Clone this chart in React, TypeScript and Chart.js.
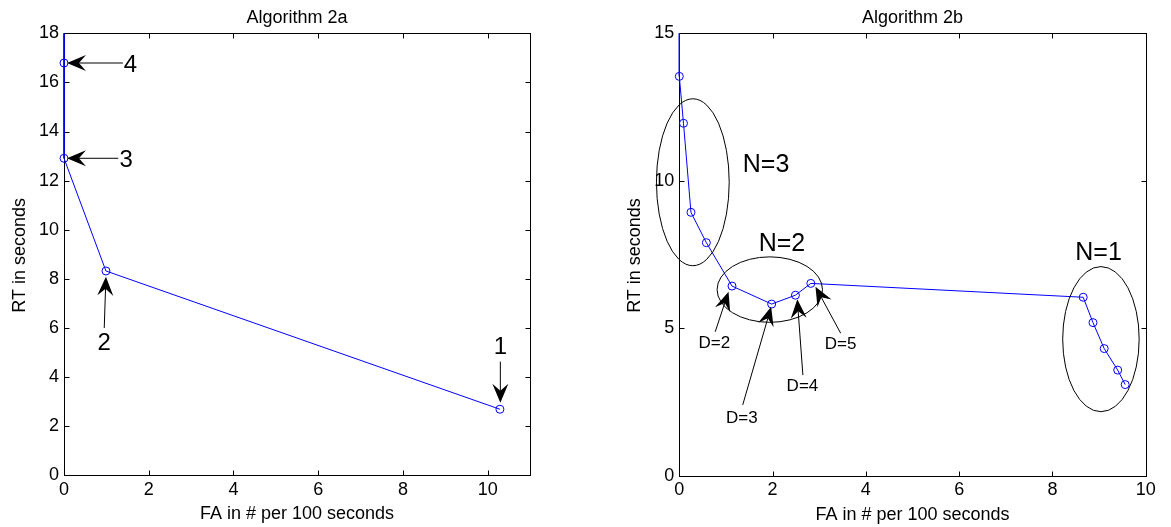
import React, { useEffect, useRef } from "react";
import { Chart, registerables } from "chart.js";

Chart.register(...registerables);

const FONT = '"Liberation Sans", Arial, Helvetica, sans-serif';

// ---------- Algorithm 2a ----------
const titleA = "Algorithm 2a";
const faA = [0, 0, 0, 0.99, 10.29];
const rtA = [30, 16.79, 12.91, 8.32, 2.69];
const xTicksA = [0, 2, 4, 6, 8, 10];
const yTicksA = [0, 2, 4, 6, 8, 10, 12, 14, 16, 18];
const xRangeA = [0, 11];
const yRangeA = [0, 18];
// arrow annotations: label, tail (x,y), tip (x,y), label centre (x,y)
const arrowLabelsA = ["4", "3", "2", "1"];
const arrowTailsA = [[1.39, 16.79], [1.28, 12.91], [0.95, 6.0], [10.3, 4.63]];
const arrowTipsA = [[0.07, 16.79], [0.07, 12.91], [0.99, 8.09], [10.3, 2.95]];
const arrowTextA = [[1.57, 16.71], [1.47, 12.84], [0.95, 5.38], [10.3, 5.2]];

// ---------- Algorithm 2b ----------
const titleB = "Algorithm 2b";
const faB = [0, 0, 0.09, 0.25, 0.58, 1.13, 1.98, 2.49, 2.82, 8.66, 8.87, 9.11, 9.4, 9.56];
const rtB = [20, 13.54, 11.95, 8.93, 7.9, 6.43, 5.82, 6.12, 6.52, 6.05, 5.19, 4.31, 3.58, 3.09];
const xTicksB = [0, 2, 4, 6, 8, 10];
const yTicksB = [0, 5, 10, 15];
const xRangeB = [0, 10];
const yRangeB = [0, 15];
const arrowLabelsB = ["D=2", "D=3", "D=4", "D=5"];
const arrowTailsB = [[0.77, 4.88], [1.36, 2.4], [2.65, 3.41], [3.46, 4.83]];
const arrowTipsB = [[1.056, 6.24], [1.97, 5.73], [2.53, 5.98], [2.92, 6.41]];
const arrowTextB = [[0.75, 4.49], [1.34, 1.95], [2.64, 3.02], [3.46, 4.46]];
// group ellipses: label, centre, radii (data units), label position
const groupLabelsB = ["N=3", "N=2", "N=1"];
const groupCentersB = [[0.29, 9.95], [1.94, 6.31], [9.04, 4.63]];
const groupRadiiB = [[0.78, 2.83], [1.13, 1.11], [0.82, 2.46]];
const groupTextB = [[1.86, 10.53], [2.2, 7.86], [8.99, 7.54]];

const xLabel = "FA in # per 100 seconds";
const yLabel = "RT in seconds";

function drawArrow(ctx: CanvasRenderingContext2D, x1: number, y1: number, x2: number, y2: number) {
  const ang = Math.atan2(y2 - y1, x2 - x1);
  const c = Math.cos(ang), s = Math.sin(ang);
  const L = 19, W = 8, N = 12;
  const pt = (d: number, w: number) => [x2 - d * c - w * s, y2 - d * s + w * c];
  const notch = pt(N, 0);
  ctx.beginPath();
  ctx.moveTo(x1, y1);
  ctx.lineTo(notch[0], notch[1]);
  ctx.stroke();
  const b1 = pt(L, W), b2 = pt(L, -W);
  ctx.beginPath();
  ctx.moveTo(x2, y2);
  ctx.lineTo(b1[0], b1[1]);
  ctx.lineTo(notch[0], notch[1]);
  ctx.lineTo(b2[0], b2[1]);
  ctx.closePath();
  ctx.fill();
}

type Cfg = {
  title: string;
  fa: number[];
  rt: number[];
  xTicks: number[];
  yTicks: number[];
  xRange: number[];
  yRange: number[];
  area: { left: number; top: number; right: number; bottom: number };
  width: number;
  height: number;
  arrowLabels: string[];
  arrowTails: number[][];
  arrowTips: number[][];
  arrowText: number[][];
  arrowFont: number;
  groupLabels?: string[];
  groupCenters?: number[][];
  groupRadii?: number[][];
  groupText?: number[][];
};

function buildChart(canvas: HTMLCanvasElement, cfg: Cfg) {
  const framePlugin = {
    id: "frame",
    beforeDatasetsDraw(chart: any) {
      const { ctx, chartArea: a, scales } = chart;
      const xs = scales.x, ys = scales.y;
      ctx.save();
      ctx.strokeStyle = "#000";
      ctx.lineWidth = 1;
      const L = Math.round(a.left) + 0.5, R = Math.round(a.right) + 0.5;
      const T = Math.round(a.top) + 0.5, B = Math.round(a.bottom) + 0.5;
      ctx.strokeRect(L, T, R - L, B - T);
      ctx.beginPath();
      for (const v of cfg.xTicks) {
        const p = Math.round(xs.getPixelForValue(v)) + 0.5;
        ctx.moveTo(p, B); ctx.lineTo(p, B - 5);
        ctx.moveTo(p, T); ctx.lineTo(p, T + 5);
      }
      for (const v of cfg.yTicks) {
        const p = Math.round(ys.getPixelForValue(v)) + 0.5;
        ctx.moveTo(L, p); ctx.lineTo(L + 5, p);
        ctx.moveTo(R, p); ctx.lineTo(R - 5, p);
      }
      ctx.stroke();
      // texts
      ctx.fillStyle = "#000";
      ctx.font = `18px ${FONT}`;
      ctx.textAlign = "center";
      ctx.textBaseline = "alphabetic";
      const cx = (a.left + a.right) / 2;
      ctx.fillText(cfg.title, cx, a.top - 10.3);
      ctx.fillText(xLabel, cx, a.bottom + 44);
      ctx.save();
      ctx.translate(a.left - 39, (a.top + a.bottom) / 2 + 1);
      ctx.rotate(-Math.PI / 2);
      ctx.fillText(yLabel, 0, 0);
      ctx.restore();
      ctx.restore();
    },
    afterDatasetsDraw(chart: any) {
      const { ctx, scales } = chart;
      const xs = scales.x, ys = scales.y;
      const px = (v: number) => xs.getPixelForValue(v);
      const py = (v: number) => ys.getPixelForValue(v);
      ctx.save();
      ctx.strokeStyle = "#000";
      ctx.fillStyle = "#000";
      ctx.lineWidth = 1;
      if (cfg.groupCenters && cfg.groupRadii && cfg.groupLabels && cfg.groupText) {
        cfg.groupCenters.forEach((c, i) => {
          const r = cfg.groupRadii![i];
          const ex = px(c[0]), ey = py(c[1]);
          const rx = Math.abs(px(c[0] + r[0]) - ex);
          const ry = Math.abs(py(c[1] + r[1]) - ey);
          ctx.beginPath();
          ctx.ellipse(ex, ey, rx, ry, 0, 0, Math.PI * 2);
          ctx.stroke();
        });
        ctx.font = `25px ${FONT}`;
        ctx.textAlign = "center";
        ctx.textBaseline = "middle";
        cfg.groupLabels.forEach((t, i) => {
          const p = cfg.groupText![i];
          ctx.fillText(t, px(p[0]), py(p[1]));
        });
      }
      cfg.arrowTails.forEach((t, i) => {
        const h = cfg.arrowTips[i];
        drawArrow(ctx, px(t[0]), py(t[1]), px(h[0]), py(h[1]));
      });
      ctx.font = `${cfg.arrowFont}px ${FONT}`;
      ctx.textAlign = "center";
      ctx.textBaseline = "middle";
      cfg.arrowLabels.forEach((t, i) => {
        const p = cfg.arrowText[i];
        ctx.fillText(t, px(p[0]), py(p[1]));
      });
      ctx.restore();
    },
  };

  const pts = cfg.fa.map((x, i) => ({ x, y: cfg.rt[i] }));
  const a = cfg.area;

  return new Chart(canvas, {
    type: "line",
    data: {
      datasets: [
        {
          data: pts,
          borderColor: "#0000ff",
          backgroundColor: "rgba(0,0,0,0)",
          borderWidth: 1,
          pointRadius: 4,
          pointBorderWidth: 1,
          pointBorderColor: "#0000ff",
          pointBackgroundColor: "rgba(0,0,0,0)",
          pointStyle: "circle",
          tension: 0,
          fill: false,
          clip: { left: 8, top: 0, right: 8, bottom: 8 },
        } as any,
      ],
    },
    options: {
      animation: false,
      responsive: false,
      devicePixelRatio: 1,
      events: [],
      layout: {
        padding: { left: 0, top: a.top, right: cfg.width - a.right, bottom: 0 },
      },
      plugins: {
        legend: { display: false },
        title: { display: false },
        tooltip: { enabled: false },
      },
      scales: {
        x: {
          type: "linear",
          min: cfg.xRange[0],
          max: cfg.xRange[1],
          grid: { display: false, drawTicks: false },
          border: { display: false },
          ticks: {
            color: "#000",
            font: { family: FONT, size: 18 },
            padding: 4,
            maxRotation: 0,
          },
          afterBuildTicks: (s: any) => {
            s.ticks = cfg.xTicks.map((v) => ({ value: v }));
          },
          afterFit: (s: any) => {
            s.height = cfg.height - a.bottom;
          },
        },
        y: {
          type: "linear",
          min: cfg.yRange[0],
          max: cfg.yRange[1],
          grid: { display: false, drawTicks: false },
          border: { display: false },
          ticks: {
            color: "#000",
            font: { family: FONT, size: 18 },
            padding: 5,
          },
          afterBuildTicks: (s: any) => {
            s.ticks = cfg.yTicks.map((v) => ({ value: v }));
          },
          afterFit: (s: any) => {
            s.width = a.left;
          },
        },
      },
    },
    plugins: [framePlugin],
  } as any);
}

function Panel({ cfg, left }: { cfg: Cfg; left: number }) {
  const ref = useRef<HTMLCanvasElement>(null);
  useEffect(() => {
    if (!ref.current) return;
    const ch = buildChart(ref.current, cfg);
    return () => ch.destroy();
  }, []);
  return (
    <canvas
      ref={ref}
      width={cfg.width}
      height={cfg.height}
      style={{ position: "absolute", left, top: 0, width: cfg.width, height: cfg.height }}
    />
  );
}

const cfgA: Cfg = {
  title: titleA,
  fa: faA,
  rt: rtA,
  xTicks: xTicksA,
  yTicks: yTicksA,
  xRange: xRangeA,
  yRange: yRangeA,
  area: { left: 64, top: 33.3, right: 530, bottom: 475.3 },
  width: 585,
  height: 527,
  arrowLabels: arrowLabelsA,
  arrowTails: arrowTailsA,
  arrowTips: arrowTipsA,
  arrowText: arrowTextA,
  arrowFont: 24,
};

const cfgB: Cfg = {
  title: titleB,
  fa: faB,
  rt: rtB,
  xTicks: xTicksB,
  yTicks: yTicksB,
  xRange: xRangeB,
  yRange: yRangeB,
  area: { left: 94.3, top: 33.3, right: 560.7, bottom: 475.7 },
  width: 586,
  height: 527,
  arrowLabels: arrowLabelsB,
  arrowTails: arrowTailsB,
  arrowTips: arrowTipsB,
  arrowText: arrowTextB,
  arrowFont: 17,
  groupLabels: groupLabelsB,
  groupCenters: groupCentersB,
  groupRadii: groupRadiiB,
  groupText: groupTextB,
};

export default function App() {
  return (
    <div style={{ position: "fixed", left: 0, top: 0, width: 1171, height: 527, background: "#fff", overflow: "hidden" }}>
      <Panel cfg={cfgA} left={0} />
      <Panel cfg={cfgB} left={585} />
    </div>
  );
}
